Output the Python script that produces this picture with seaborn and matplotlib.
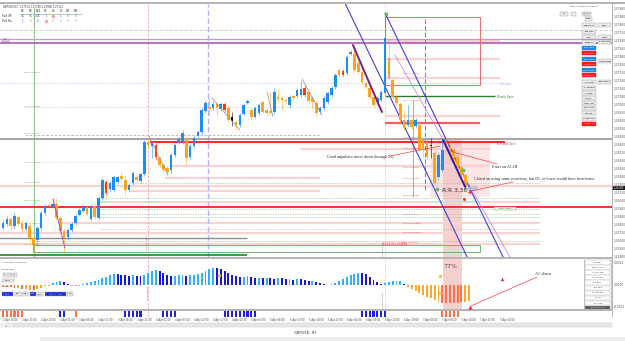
import numpy as np
import pandas as pd
import seaborn as sns
import matplotlib.pyplot as plt
from matplotlib.patches import Rectangle
from matplotlib.ticker import FuncFormatter, FixedLocator

sns.set_style("white")
plt.rcParams['font.family'] = ['DejaVu Sans']

# GBPUSD H1, prices stored as pips above BASE
BASE = 1.2500
open_p = [76, 80, 85, 78, 87, 81, 75, 78, 66, 64, 76, 91, 99, 97, 100, 86, 73, 67, 74, 81,
          89, 93, 97, 85, 98, 86, 106, 122, 115, 114, 122, 128, 124, 114, 121, 127, 123, 130, 162, 158,
          159, 146, 139, 136, 134, 149, 161, 162, 165, 147, 158, 168, 172, 193, 197, 196, 200, 195, 200, 196,
          187, 182, 179, 190, 201, 194, 187, 191, 202, 194, 193, 192, 207, 206, 204, 199, 208, 208, 209, 216,
          212, 206, 201, 192, 196, 202, 209, 217, 234, 233, 231, 250, 250, 241, 232, 221, 216, 207, 202, 204,
          211, 246, 224, 207, 200, 184, 179, 184, 178, 179, 164, 162, 159, 151, 127, 134, 162, 157, 154, 147,
          137, 129, 114]
close_p = [81, 85, 78, 88, 80, 75, 81, 66, 59, 76, 91, 98, 98, 100, 86, 73, 66, 74, 80, 88,
           94, 97, 90, 98, 87, 106, 124, 111, 121, 127, 127, 125, 114, 119, 131, 124, 130, 162, 159, 161,
           147, 139, 134, 132, 149, 159, 165, 171, 146, 158, 166, 172, 194, 201, 195, 200, 196, 200, 194, 184,
           183, 179, 189, 199, 203, 187, 196, 199, 192, 191, 191, 212, 205, 204, 203, 207, 206, 214, 215, 209,
           203, 202, 191, 196, 206, 211, 216, 229, 229, 229, 247, 252, 234, 232, 222, 217, 207, 199, 206, 212,
           266, 226, 207, 201, 184, 176, 184, 177, 184, 154, 156, 147, 158, 121, 149, 154, 157, 154, 144, 136,
           129, 117, 118]
high_p = [84, 88, 87, 91, 89, 84, 83, 82, 68, 78, 94, 100, 101, 106, 106, 88, 75, 76, 82, 90,
          96, 99, 99, 100, 100, 108, 126, 124, 123, 129, 128, 132, 128, 121, 133, 129, 132, 164, 166, 163,
          161, 148, 141, 138, 151, 161, 167, 174, 167, 160, 168, 174, 196, 204, 206, 203, 202, 202, 202, 198,
          192, 184, 191, 201, 205, 196, 198, 201, 204, 196, 212, 216, 214, 208, 206, 209, 210, 216, 224, 220,
          214, 208, 203, 198, 208, 213, 218, 231, 236, 235, 249, 254, 259, 243, 234, 223, 218, 209, 208, 214,
          290, 264, 226, 209, 202, 194, 199, 186, 186, 182, 166, 164, 166, 154, 152, 164, 166, 162, 156, 149,
          139, 131, 120]
low_p = [74, 78, 75, 76, 78, 72, 73, 63, 52, 58, 74, 89, 96, 96, 84, 70, 51, 64, 72, 79,
         88, 92, 88, 83, 85, 84, 104, 108, 113, 112, 120, 123, 110, 112, 119, 122, 121, 128, 156, 146,
         144, 137, 132, 129, 131, 147, 160, 160, 139, 145, 156, 167, 170, 191, 188, 194, 188, 193, 192, 182,
         178, 174, 177, 188, 200, 185, 186, 189, 190, 188, 189, 190, 203, 194, 200, 196, 204, 206, 207, 207,
         200, 196, 188, 190, 194, 200, 207, 215, 227, 227, 229, 249, 232, 230, 220, 215, 205, 197, 200, 202,
         209, 224, 205, 199, 182, 174, 177, 175, 176, 152, 147, 145, 146, 119, 124, 132, 152, 144, 141, 132,
         126, 114, 112]
red_bars = [27, 40, 58, 79, 89]
doji_bars = [60, 112]

# Accelerator oscillator (x 1e-4) and its colour state per bar
ac_pts = [-1, -2, -2, -3, -3, -4, -4, -5, -5, -4, -3, -1, -0.5, 2, 3, 4, 3, 1, -0.5, -1,
          -0.5, 1, 2, 3, 4, 5, 7, 8, 10, 11, 11, 10, 10, 9, 10, 9, 9, 10, 12, 14,
          15, 14, 12, 10, 9, 9, 10, 10, 9, 10, 10, 11, 12, 14, 16, 17, 17, 16, 14, 12,
          10, 9, 8, 8, 9, 8, 7, 7, 7, 7, 7, 6, 7, 7, 6, 6, 5, 6, 6, 5,
          4, 4, 3, 2, 1, 0.5, 1, 2, 4, 6, 8, 10, 11, 12, 12, 11, 8, 5, 3, 1,
          2, 3, 4, 4, 4, 1, -2, -4, -6, -8, -10, -12, -13, -15, -17, -18, -18, -18, -18, -18,
          -17, -17, -16]
ac_state = ("OOTTOTOOTOOOO" + "LLLDD" + "OOO" + "LLLLLLLLL" + "DDDD" + "L" + "DD" + "LLLL"
            + "DDDD" + "LLL" + "D" + "LLLLLLL" + "DDDDDDD" + "LL" + "DD" + "L" + "D" + "L"
            + "DD" + "L" + "DD" + "L" + "D" + "L" + "DDD" + "L" + "DDDD" + "LLLLLLLL"
            + "DDDDDD" + "LLLLL" + "D" + "OOOOOOOOO" + "TTTTTT" + "OO")
strip_runs = [(0, 5, "T"), (15, 16, "B"), (19, 19, "T"), (32, 36, "B"), (42, 45, "B"),
              (58, 66, "B"), (94, 100, "B"), (115, 119, "T")]
bar_times = pd.date_range("2024-04-02 10:00", periods=135, freq="h")

BULL, BEAR, RED = "#1E8CF0", "#FFA31A", "#FF3A12"

W, H = 625, 341
fig = plt.figure(figsize=(6.25, 3.41), dpi=100)


def frac(x0, y0, x1, y1):
    return [x0 / W, 1 - y1 / H, (x1 - x0) / W, (y1 - y0) / H]


ax = fig.add_axes(frac(0, 4, 612, 257))
ax2 = fig.add_axes(frac(0, 259, 612, 309))
ax3 = fig.add_axes(frac(0, 311, 612, 317))
ui = fig.add_axes([0, 0, 1, 1], zorder=5)
ui.set_xlim(0, W)
ui.set_ylim(H, 0)
ui.axis("off")
ui.patch.set_alpha(0)

XL = (-3 / 3.82, 609 / 3.82)
for a in (ax, ax2, ax3):
    a.set_xlim(*XL)
    for s in a.spines.values():
        s.set_visible(False)
ax.set_ylim(47, 300)
ax2.set_ylim(-24, 26)
ax3.set_ylim(0, 1)

# ---- candles
idx = np.arange(len(open_p))
o, c = np.array(open_p), np.array(close_p)
cols = [BULL if cc >= oo else BEAR for oo, cc in zip(o, c)]
for i in red_bars:
    cols[i] = RED
for i in doji_bars:
    cols[i] = "black"
ax.vlines(idx, low_p, high_p, colors=cols, lw=0.5, alpha=0.75, zorder=4)
ax.bar(idx, np.maximum(np.abs(c - o), 0.8), bottom=np.minimum(o, c), width=0.68,
       color=cols, lw=0, zorder=5)

# ---- horizontal levels (pips, start bar, end bar, colour, width, style)
levels = [
    (274, -1, 160, "#C8C8C8", 0.6, (0, (4, 2))),
    (265, -1, 160, "#CE93D8", 0.9, "-"),
    (261.5, -1, 160, "#A54CB5", 1.1, "-"),
    (221.5, -1, 130, "#CDB0F0", 0.6, ":"),
    (208.5, 100, 128.8, "#2E7D32", 1.0, "-"),
    (197, 5.8, 100, "#A8A8A8", 0.5, ":"),
    (169, 5.8, 83, "#B0B0B0", 0.6, (0, (3, 2))),
    (165, -1, 160, "#9E9E9E", 1.3, "-"),
    (162, 38.5, 131.4, "#FF2A2A", 1.5, "-"),
    (142, 9.7, 41, "#B8B8B8", 0.4, ":"),
    (181, 100, 124.9, "#FF5A5A", 1.6, "-"),
    (97.5, -1, 160, "#FF1F1F", 1.3, "-"),
    (66, -1, 63.9, "#8E8E8E", 1.0, "-"),
    (49, -1, 63.9, "#1B8A1B", 1.2, "-"),
]
pink_levels = [(263, 100, 130), (245, 100, 130), (226, 100, 130), (188, 100, 130),
               (155, 77.7, 127.5), (138, 43.7, 127.5), (126, 42.4, 83), (118.5, -1, 160),
               (113, 33.2, 83), (102, 25.4, 140.6), (81, 14.9, 140.6), (71, -1, 140.6),
               (60, -1, 140.6)]
dash_levels = [(121, 33.2, 140.6), (106, 25.4, 140.6), (95, 25.4, 140.6), (90, 25.4, 140.6),
               (87, 25.4, 140.6), (75, 25.4, 140.6), (63, 7.9, 140.6)]
for y, a0, a1 in pink_levels:
    ax.hlines(y, a0, a1, color="#F9D3D3", lw=1.6, zorder=1)
for y, a0, a1 in dash_levels:
    ax.hlines(y, a0, a1, color="#9FCB9F", lw=0.5, ls=(0, (2, 1.5)), zorder=1)
for y, a0, a1, col, lw, ls in levels:
    ax.hlines(y, a0, a1, color=col, lw=lw, ls=ls, zorder=2)

# zones
ax.add_patch(Rectangle((111.8, 107), 15.7, 55, fc="#FCE6E6", ec="none", zorder=0))
ax.add_patch(Rectangle((115.2, 47), 5, 117, fc="#F4C4C4", ec="none", alpha=0.8, zorder=0))
ax2.add_patch(Rectangle((115.2, -24), 5, 50, fc="#F4C4C4", ec="none", alpha=0.8, zorder=0))
ax.add_patch(Rectangle((100, 219), 24.9, 68, fc="none", ec="#E57373", lw=0.8, zorder=2))
ax.add_patch(Rectangle((7.9, 52), 117, 7, fc="none", ec="#5DAA5D", lw=0.6, zorder=2))

# vertical markers
ax.vlines(8.1, 47, 296, color="#8CC68C", lw=0.8, zorder=1)
for a in (ax, ax2, ax3):
    a.axvline(38, color="#F3A6A6", lw=0.6, ls=(0, (3, 2)), zorder=1)
ax.axvline(53.7, color="#B3B3F5", lw=1.0, ls=(0, (4, 2)), zorder=1)
ax.axvline(100, color="#9ED09E", lw=0.6, ls=":", zorder=1)
ax2.axvline(100, color="#9ED09E", lw=0.6, ls=":", zorder=1)
ax.vlines(110.5, 114, 287, color="#7C7CF0", lw=0.8, ls=(0, (4, 2)), zorder=2)
ax.vlines(107.3, 107, 204, color="#F06060", lw=0.5, zorder=2)

# trend lines / swings
ax.plot([89.5, 121.5], [301, 47], color="#3F3FE0", lw=0.8, zorder=3)
ax.plot([100, 130.9], [291, 47], color="#3F3FE0", lw=0.8, zorder=3)
ax.plot([102.6, 132.7], [249, 47], color="#C58BE0", lw=0.6, zorder=3)
ax.plot([91.6, 99.2], [259, 192], color="#7B1F7B", lw=1.4, zorder=6)
ax.plot([115.2, 121], [164, 117], color="#1F1FB0", lw=1.4, zorder=6)
for xs, ys in [([38.2, 43.2], [168, 129]), ([54.7, 62], [206, 174]), ([69.1, 70.7], [212, 187]),
               ([78.3, 83.5], [225, 189])]:
    ax.plot(xs, ys, color="#8F8F8F", lw=0.5, zorder=6)
ax.plot([13.1, 16.2], [105, 56], color="#A040C0", lw=0.6, zorder=6)

ax.scatter([100.3, 120.4, 113.6], [290, 134, 115], s=5, color="#5FD35F", ec="#2E8B2E", lw=0.3, zorder=7)
ax.scatter([120.7], [105], s=5, color="#E53935", lw=0, zorder=7)
ax.scatter([117.5], [154], s=5, marker=">", color="#E53935", lw=0, zorder=7)

fib_pcts = ["0.0", "23.6", "38.2", "50.0", "61.8", "70.5", "78.6", "88.6", "100", "127.2", "161.8", "200"]
fib_pips = [262, 231, 204, 167, 156, 137, 126, 109, 90, 81, 72, 62]
for pct, y in zip(fib_pcts, fib_pips):
    ax.text(104.7, y, f"{pct} ({BASE + y / 1e4:.5f})", fontsize=1.6, color="#E53935", va="center", zorder=6)
left_pcts = ["100", "50.0", "0.0", "61.8", "76.4", "88.6", "113", "127"]
left_pips = [232, 198, 171, 142, 122, 104, 81, 60]
for pct, y in zip(left_pcts, left_pips):
    ax.text(5.5, y, f"{pct} ({BASE + y / 1e4:.5f})", fontsize=1.6, color="#6B8E23", va="center", zorder=6)

# price axis
ax.yaxis.tick_right()
ax.yaxis.set_major_locator(FixedLocator(np.arange(48, 300, 8)))
ax.yaxis.set_major_formatter(FuncFormatter(lambda v, p: f"{BASE + v / 1e4:.5f}"))
ax.tick_params(axis="y", labelsize=2.1, length=1, width=0.3, pad=0.5, colors="#555555")
ax.set_xticks([])

# ---- AC histogram
ac_df = pd.DataFrame({"bar": idx, "ac": ac_pts, "state": list(ac_state)})
ac_pal = {"L": "#2BB5F2", "D": "#1717D9", "O": "#FFA726", "T": "#FF7043"}
sns.barplot(data=ac_df, x="bar", y="ac", hue="state", palette=ac_pal, native_scale=True,
            width=0.5, dodge=False, errorbar=None, legend=False, saturation=1, lw=0, ax=ax2)
ax2.set_xlim(*XL)
ax2.set_ylim(-24, 26)
ax2.set_xlabel("")
ax2.set_ylabel("")
ax2.set_xticks([])
ax2.yaxis.tick_right()
ax2.set_yticks([22, 0, -22])
ax2.yaxis.set_major_formatter(FuncFormatter(lambda v, p: f"{v / 1e4:.4f}"))
ax2.tick_params(axis="y", labelsize=2.1, length=1, width=0.3, pad=0.5, colors="#555555")
ax2.scatter([56.5, 114.4, 114.4], [10, 9, -8], s=6, color="#F5C242", lw=0, zorder=5)
ax2.scatter([130.6], [6], s=6, marker="^", color="#E52020", lw=0, zorder=5)

# ---- signal strip + time axis
for a0, a1, k in strip_runs:
    xs = np.arange(a0, a1 + 1)
    ax3.bar(xs, 1, width=0.55, color="#2020E0" if k == "B" else "#FF7043", lw=0)
tick_bars = list(range(0, 135, 5))
ax3.set_xticks(tick_bars)
ax3.set_xticklabels([f"{bar_times[i].day} {bar_times[i].strftime('%b %H:%M')}" for i in tick_bars],
                    ha="left")
ax3.tick_params(axis="x", labelsize=1.8, length=0, pad=0.8, colors="#444444")
ax3.set_yticks([])
ax3.set_xlim(*XL)

# ---- terminal chrome
ui.add_patch(Rectangle((0, 2.2), 625, 1.5, fc="#B5B5B5", ec="none"))
ui.add_patch(Rectangle((0, 256.8), 612, 2.2, fc="#B5B5B5", ec="none"))
ui.add_patch(Rectangle((0, 309), 612, 2, fc="#B5B5B5", ec="none"))
ui.plot([612, 612], [3, 317], color="#A8A8A8", lw=0.6)
ui.add_patch(Rectangle((12, 322.5), 600, 4.5, fc="#E6E6E6", ec="#C8C8C8", lw=0.3))
ui.add_patch(Rectangle((1, 322.5), 9, 4.5, fc="#F4F4F4", ec="#C8C8C8", lw=0.3))
ui.text(5.5, 324.8, "<", fontsize=2.2, ha="center", va="center", color="#666666")
ui.text(305, 332.5, "GBPUSD, H1", fontsize=2.6, ha="center", va="center", color="#333333")
ui.add_patch(Rectangle((40, 336.5), 585, 4.5, fc="#EDEDED", ec="none"))
ui.add_patch(Rectangle((612, 185.5), 13, 4.5, fc="#1A1A1A", ec="none"))
ui.text(618.5, 187.8, f"{BASE + close_p[-1] / 1e4:.5f}", fontsize=1.8, color="white", ha="center", va="center")


def box(x, y, w, h, text, fc="#ECECEC", ec="#9A9A9A", tc="black", fs=1.7):
    ui.add_patch(Rectangle((x, y), w, h, fc=fc, ec=ec, lw=0.3))
    if text:
        ui.text(x + w / 2, y + h / 2, text, fontsize=fs, color=tc, ha="center", va="center")


# header
ui.text(3, 6.5, "GBPUSD,H1  1.27154 1.27180 1.27098 1.27121", fontsize=1.8, color="#333333", va="center")
tf_names = ["M1", "M5", "M15", "H1", "H4", "D1", "W1", "MN"]
pwd_up = ["4.0", "3.5", "3/16", "1", "", "1", "5", "3"]
pwd_dn = ["1", "0", "4", "", "0", "0", "0", "0"]
tf_x = [23, 31, 38, 46, 53, 61, 68, 76]
ui.text(2, 16, "Pwd UP:", fontsize=1.8, va="center")
ui.text(2, 21, "Pwd Dn:", fontsize=1.8, va="center")
for x, n, u, d in zip(tf_x, tf_names, pwd_up, pwd_dn):
    ui.text(x, 11, n, fontsize=1.8, ha="center", va="center")
    ui.text(x, 16, u, fontsize=1.8, ha="center", va="center", color="#2A2AE0")
    ui.text(x, 21, d, fontsize=1.8, ha="center", va="center", color="#2A2AE0" if d not in ("0",) else "#888888")
ui.plot([20, 82], [13.5, 13.5], color="#9ED09E", lw=0.6)
ui.scatter([53, 46], [16, 21], s=6, color="#FF9C9C", lw=0)
box(2, 38.5, 7, 3, "Sell", fc="#E6C8EA", ec="#A54CB5", fs=1.6)

# line tags
ui.text(500, 84, "Vol Open", fontsize=1.8, color="#A98BE0", va="center")
ui.text(497, 97, "Weekly Open", fontsize=1.8, color="#2E7D32", va="center")
ui.text(497, 143.5, "PDH Asia Open", fontsize=1.8, color="#E53935", va="center")
box(494, 206.5, 22, 3.5, "Daily Open", fc="#E9F5E9", ec="#5DAA5D", tc="#2E7D32", fs=1.6)
box(468, 186.5, 9, 3.5, "1.2711", fc="#DDE9FA", ec="#3F51B5", fs=1.4)
ui.text(383, 244, "61.3% Div 1.25614", fontsize=1.8, color="#C62828", va="center")
for x, y0, txt in [(148, 250, "London Open"), (383, 256, "London Open"), (148, 300, "Asia Session"),
                   (384, 307, "London Open")]:
    ui.text(x, y0, txt, fontsize=1.6, rotation=90, ha="center", va="bottom", color="#555555")

# annotations
serif = ["Liberation Serif", "DejaVu Serif"]
ui.text(327, 157, "Good impulsive move down through EQ", fontsize=3.0, family=serif, va="center")
ui.plot([390, 440], [156, 146], color="#FF4040", lw=0.5)
ui.text(492, 167, "Enter on AC1B", fontsize=3.0, family=serif, va="center")
ui.plot([453, 497], [152, 164], color="#FF4040", lw=0.5)
ui.text(474, 179, "Closed on using some resistance, but DC or lower would have been better",
        fontsize=3.0, family=serif, va="center")
ui.plot([513, 469], [182, 191.5], color="#FF4040", lw=0.5)
ui.scatter([469], [191.5], s=6, marker="<", color="#FF2020", lw=0)
ui.text(442, 190, "R:R 3.38", fontsize=4.2, color="#333333", va="center")
ui.text(443, 267, "77%", fontsize=4.5, color="#555555", va="center")
ui.text(535, 274, "AC down", fontsize=3.0, family=serif, va="center")
ui.plot([537, 471], [277, 306], color="#FF4040", lw=0.5)
ui.scatter([470], [306.5], s=9, marker="^", color="#FF2020", lw=0)

# trade manager panel
ui.text(584, 6.5, "Dreck Trade Manager ©", fontsize=1.7, va="center", ha="center", color="#333333")
for x, w, t in [(560, 8, "SL"), (571, 5, ""), (582, 3, "4"), (585, 3, "1"), (588, 3, "2")]:
    box(x, 12, w, 4, t)
box(585, 17, 7, 3.5, "Lots")
left_btns = [(23, "STEALTH", "g"), (30, "BE OFF", "g"), (35, "Buy", "g"), (40, "Partials", "g"),
             (46, "Buy MKT", "b"), (51, "Sell MKT", "r"), (57, "Buy Stop", "b"), (62, "Sell Stop", "r"),
             (68, "Buy Limit", "b"), (73, "Sell Limit", "r"), (80, "T Profit", "g"), (86, "T Candle", "g"),
             (91, "T Trail", "g"), (96, "Trail%", "g"), (101, "33% Off", "g"), (106, "50% Off", "g"),
             (111, "Fix S/L", "g"), (116.5, "Close Pos", "g"), (121.5, "Close All", "r")]
right_btns = [(23, "EXIT"), (35, "Limit"), (40, "1 PIPS BE"), (59, "Limit Mod"), (80, "BE Level")]
kind_fc = {"g": ("#ECECEC", "black"), "b": ("#1E88E5", "white"), "r": ("#FF1A1A", "white")}
for y, t, k in left_btns:
    fc, tc = kind_fc[k]
    box(582, y, 14, 4, t, fc=fc, tc=tc, ec="#9A9A9A" if k == "g" else fc)
for y, t in right_btns:
    box(598, y, 13, 4, t)

# indicator panel widgets
ui.text(2, 262, "+ Indicator control (2)", fontsize=1.6, va="center", color="#444444")
ui.text(2, 270, "wave Tool", fontsize=1.7, va="center")
for x in (3, 8, 13):
    box(x, 273, 4, 3.5, "0", fs=1.4)
box(2, 278.5, 12, 3.5, "ptions", fs=1.4)
ui.text(2, 286, "System", fontsize=1.7, va="center")
for x, w, t, k in [(2, 11, "Pro%", "b"), (15, 6, "Del", "g"), (22, 6, "Imp", "g"), (30, 6, "Cpy", "b"),
                   (37, 6, "Last", "g"), (45, 21, "FC  +  -  FD", "b"), (67, 6, "FW", "g")]:
    fc, tc = ("#1E2FE0", "white") if k == "b" else ("#ECECEC", "black")
    box(x, 292, w, 4, t, fc=fc, tc=tc, fs=1.5)
stats_rows = ["7.0000", "Bid 1.2711", "L 1.26 108", "H 1.27 814", "14.0000", "ATR 38.3",
              "S 1.26 107", "R 0.0", "TR 1.775"]
ui.add_patch(Rectangle((584, 259.5), 27, 49, fc="white", ec="#9A9A9A", lw=0.4))
for k, t in enumerate(stats_rows):
    yy = 260 + k * 5.1
    ui.add_patch(Rectangle((585, yy), 25, 4.6, fc="white", ec="#B0B0B0", lw=0.3))
    ui.text(597.5, yy + 2.3, t, fontsize=1.5, ha="center", va="center")
box(585, 306, 25, 2.6, "END OF DAY 4H", fc="#555555", tc="white", fs=1.3)

fig.savefig("out.png", dpi=100)
